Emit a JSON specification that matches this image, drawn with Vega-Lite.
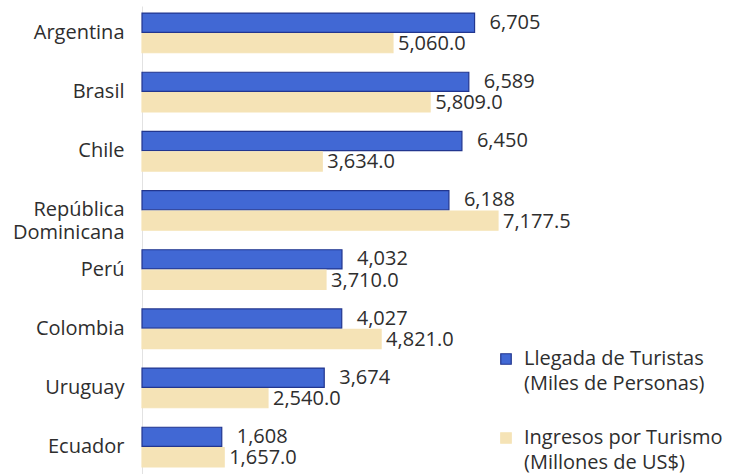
{
  "$schema": "https://vega.github.io/schema/vega-lite/v6.json",
  "width": 589,
  "height": 468,
  "autosize": {"type": "none"},
  "padding": {"left": 142, "top": 6, "right": 0, "bottom": 0},
  "background": "white",
  "config": {
    "view": {"stroke": null},
    "font": "Open Sans",
    "style": {"guide-label": {"lineHeight": 25}}
  },
  "data": {"values": [
    {"country": "Argentina", "series": "Llegada de Turistas|(Miles de Personas)", "value": 6705},
    {"country": "Argentina", "series": "Ingresos por Turismo|(Millones de US$)", "value": 5060.0},
    {"country": "Brasil", "series": "Llegada de Turistas|(Miles de Personas)", "value": 6589},
    {"country": "Brasil", "series": "Ingresos por Turismo|(Millones de US$)", "value": 5809.0},
    {"country": "Chile", "series": "Llegada de Turistas|(Miles de Personas)", "value": 6450},
    {"country": "Chile", "series": "Ingresos por Turismo|(Millones de US$)", "value": 3634.0},
    {"country": "República Dominicana", "series": "Llegada de Turistas|(Miles de Personas)", "value": 6188},
    {"country": "República Dominicana", "series": "Ingresos por Turismo|(Millones de US$)", "value": 7177.5},
    {"country": "Perú", "series": "Llegada de Turistas|(Miles de Personas)", "value": 4032},
    {"country": "Perú", "series": "Ingresos por Turismo|(Millones de US$)", "value": 3710.0},
    {"country": "Colombia", "series": "Llegada de Turistas|(Miles de Personas)", "value": 4027},
    {"country": "Colombia", "series": "Ingresos por Turismo|(Millones de US$)", "value": 4821.0},
    {"country": "Uruguay", "series": "Llegada de Turistas|(Miles de Personas)", "value": 3674},
    {"country": "Uruguay", "series": "Ingresos por Turismo|(Millones de US$)", "value": 2540.0},
    {"country": "Ecuador", "series": "Llegada de Turistas|(Miles de Personas)", "value": 1608},
    {"country": "Ecuador", "series": "Ingresos por Turismo|(Millones de US$)", "value": 1657.0}
  ]},
  "encoding": {
    "y": {
      "field": "country", "type": "nominal", "sort": null,
      "scale": {"paddingInner": 0.33, "paddingOuter": 0.12},
      "axis": {
        "title": null, "ticks": false, "domain": true, "domainColor": "#e2e2e2",
        "labelFontSize": 20, "labelColor": "#2e2e2e", "labelPadding": 18,
        "labelFont": "Open Sans", "labelLineHeight": 23,
        "labelExpr": "datum.value == 'República Dominicana' ? ['República', 'Dominicana'] : datum.value"
      }
    },
    "yOffset": {
      "field": "series", "type": "nominal", "sort": null,
      "scale": {"paddingInner": 0.06}
    },
    "x": {
      "field": "value", "type": "quantitative",
      "scale": {"domain": [0, 11875], "nice": false},
      "axis": null
    }
  },
  "layer": [
    {
      "mark": {"type": "bar", "strokeWidth": 1.2},
      "encoding": {
        "color": {
          "field": "series", "type": "nominal", "sort": null,
          "scale": {"range": ["#4168d4", "#f5e3b6"]},
          "legend": {
            "title": null, "orient": "none", "legendX": 354, "legendY": 343,
            "symbolType": "square", "symbolSize": 110, "symbolStrokeWidth": 1.2,
            "labelFontSize": 20, "labelColor": "#2e2e2e", "labelFont": "Open Sans",
            "labelExpr": "split(datum.value, '|')",
            "rowPadding": 34, "labelOffset": 8, "labelLimit": 300
          }
        },
        "stroke": {
          "field": "series", "type": "nominal", "sort": null,
          "scale": {"range": ["#22368f", "#f5e3b6"]}
        }
      }
    },
    {
      "transform": [{"filter": "indexof(datum.series, 'Llegada') == 0"}],
      "mark": {"type": "text", "align": "left", "baseline": "middle", "dx": 15, "fontSize": 20, "color": "#2e2e2e", "font": "Open Sans"},
      "encoding": {"text": {"field": "value", "type": "quantitative", "format": ",.0f"}}
    },
    {
      "transform": [{"filter": "indexof(datum.series, 'Ingresos') == 0"}],
      "mark": {"type": "text", "align": "left", "baseline": "middle", "dx": 5, "dy": 1, "fontSize": 20, "color": "#2e2e2e", "font": "Open Sans"},
      "encoding": {"text": {"field": "value", "type": "quantitative", "format": ",.1f"}}
    }
  ]
}
